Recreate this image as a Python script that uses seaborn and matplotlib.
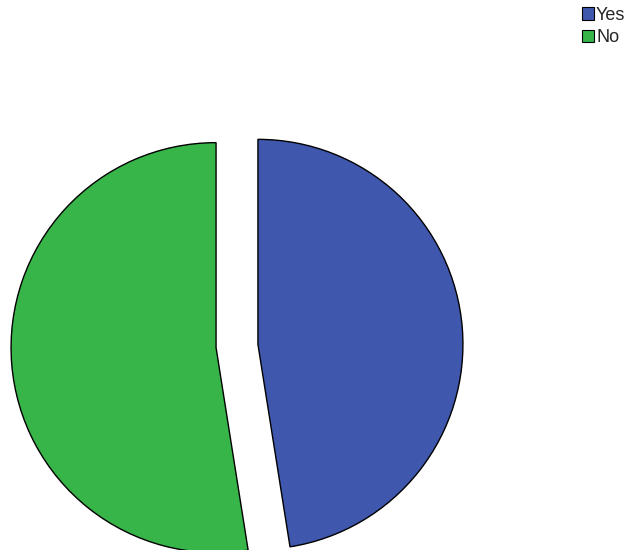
#Pie chart of Yes / No answers
import numpy as np
import matplotlib
matplotlib.use('Agg')
import matplotlib.pyplot as plt
import seaborn as sns

#Data
labels = ['Yes', 'No']
shares = [47.5, 52.5]
colors = ['#3f58ad', '#37b548']

sns.set_style('white')
plt.rcParams['font.family'] = ['Liberation Sans', 'DejaVu Sans']

fig = plt.figure(figsize=(6.26, 5.5), dpi=100)
ax = fig.add_axes([0, 0, 1, 1])

#explode is in data units here (pixels), since radius is in pixels too
wedges, _ = ax.pie(shares, colors=colors, startangle=90, counterclock=False,
                   explode=[21, 21], center=(237, 204), radius=205,
                   wedgeprops=dict(edgecolor='black', linewidth=1.0))
ax.set_xlim(0, 626)
ax.set_ylim(0, 550)
ax.set_aspect('equal')
ax.axis('off')

leg = fig.legend(wedges, labels, loc='upper left', bbox_to_anchor=(582/626, 1 - 7/550),
                 frameon=False, fontsize=13, handlelength=0.68, handleheight=0.68,
                 handletextpad=0.1, labelspacing=0.3, borderaxespad=0, borderpad=0)
for h in leg.legend_handles:
    h.set_edgecolor('black')
    h.set_linewidth(0.8)

fig.savefig('out.png', dpi=100)
